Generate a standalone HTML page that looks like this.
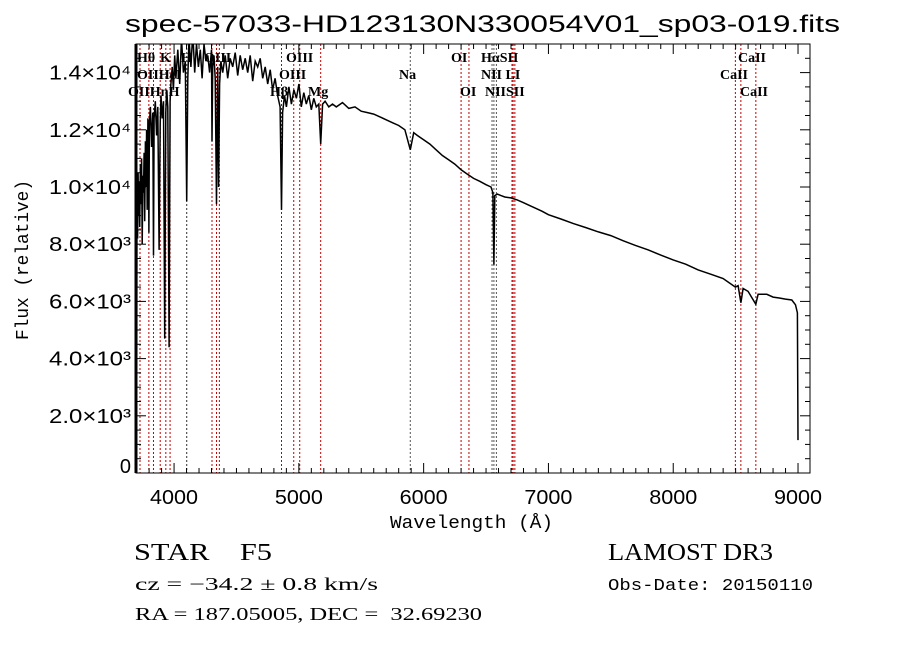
<!DOCTYPE html>
<html><head><meta charset="utf-8"><style>
html,body{margin:0;padding:0;background:#fff;width:900px;height:649px;overflow:hidden}
svg{display:block}
.ser{font-family:"Liberation Serif",serif}
.san{font-family:"Liberation Sans",sans-serif}
.mono{font-family:"Liberation Mono",monospace}
</style></head><body>
<svg id="chart" width="900" height="649" viewBox="0 0 900 649" xmlns="http://www.w3.org/2000/svg">
<text x="125" y="32" class="san" font-size="24" textLength="715" lengthAdjust="spacingAndGlyphs">spec-57033-HD123130N330054V01_sp03-019.fits</text>
<g id="grid"></g>
<g id="lines"></g>
<g id="spec"></g>
<g id="axes"></g>
<text x="390" y="528" class="mono" font-size="18" textLength="163" lengthAdjust="spacingAndGlyphs">Wavelength (Å)</text>
<text transform="translate(28,340) rotate(-90)" class="mono" font-size="18" textLength="160" lengthAdjust="spacingAndGlyphs">Flux (relative)</text>
<text x="134" y="560" class="ser" font-size="24" textLength="138" lengthAdjust="spacingAndGlyphs" xml:space="preserve">STAR    F5</text>
<text x="608" y="560" class="ser" font-size="24" textLength="165" lengthAdjust="spacingAndGlyphs">LAMOST DR3</text>
<text x="135" y="590" class="ser" font-size="18" textLength="243" lengthAdjust="spacingAndGlyphs">cz = −34.2 ± 0.8 km/s</text>
<text x="608" y="590" class="mono" font-size="17" textLength="205" lengthAdjust="spacingAndGlyphs">Obs-Date: 20150110</text>
<text x="135" y="620" class="ser" font-size="18" textLength="347" lengthAdjust="spacingAndGlyphs" xml:space="preserve">RA = 187.05005, DEC =  32.69230</text>
</svg>
<script>
const wavelengths=[3700,3703,3708,3712,3716,3720,3725,3730,3735,3740,3745,3750,3755,3760,3765,3770,3775,3780,3785,3790,3795,3798,3802,3810,3820,3830,3835,3840,3850,3860,3870,3880,3889,3895,3905,3915,3925,3934,3940,3950,3960,3968,3975,3985,3995,4005,4015,4030,4045,4060,4075,4090,4101,4110,4120,4135,4150,4165,4180,4195,4210,4225,4240,4255,4270,4285,4300,4304,4310,4320,4330,4340,4350,4357,4365,4375,4390,4410,4430,4450,4470,4490,4510,4530,4550,4570,4590,4610,4630,4650,4670,4690,4710,4730,4750,4770,4790,4810,4830,4850,4861,4870,4885,4900,4920,4940,4960,4980,5000,5020,5040,5060,5080,5100,5120,5140,5160,5175,5190,5210,5240,5270,5300,5350,5400,5450,5500,5550,5600,5650,5700,5750,5800,5850,5893,5920,5950,6000,6050,6100,6150,6200,6250,6300,6350,6400,6450,6500,6540,6555,6563,6570,6590,6620,6650,6700,6750,6800,6850,6900,6950,7000,7100,7200,7300,7400,7500,7600,7700,7800,7900,8000,8100,8200,8300,8400,8498,8520,8542,8560,8600,8662,8680,8750,8800,8850,8900,8950,8980,8995,9000];
const fluxes=[200,9500,8200,10500,9000,10200,8600,10800,9400,11000,8000,10400,9800,11200,8800,11600,10000,12000,9200,12400,11000,8400,12200,12800,11400,12600,7600,12400,13000,11800,12800,7800,12200,13200,12400,13000,4700,12600,13400,12800,4400,13000,13600,14200,13400,14600,13800,14800,13600,15200,14000,14400,9500,13800,15200,14200,15400,14000,15000,14200,14800,13800,15000,14400,14600,14000,14800,11600,14200,14600,13800,9400,14200,10000,13600,14400,14000,14600,13800,14500,14200,14700,13900,14600,14100,14500,14000,14600,13700,14400,14200,14500,13800,14200,13600,14100,13400,13800,13200,12800,9200,12600,13200,12800,13500,12900,13400,13100,13600,12800,13300,12900,13200,12700,13100,12800,12900,11500,12900,13000,12800,12900,12800,12950,12750,12800,12650,12600,12550,12450,12350,12250,12150,12000,11300,11900,11800,11650,11500,11300,11100,10950,10800,10600,10450,10300,10200,10080,10000,9800,7280,9700,9750,9700,9650,9620,9550,9450,9350,9250,9150,9030,8880,8720,8580,8430,8300,8120,7950,7800,7620,7450,7300,7100,6950,6800,6500,6550,5950,6450,6350,5900,6250,6250,6150,6120,6080,6050,5880,5600,1150];
const xTicks=[4000,5000,6000,7000,8000,9000];
const yTicks=[0,2000,4000,6000,8000,10000,12000,14000];
const yTickLabels=["0","2.0×10³","4.0×10³","6.0×10³","8.0×10³","1.0×10⁴","1.2×10⁴","1.4×10⁴"];
const lineWaves=[3727,3798,3835,3889,3934,3968,4101,4101,4304,4340,4363,4861,4959,5007,5175,5893,6300,6363,6548,6563,6583,6708,6717,6731,8498,8542,8662];
const lineNames=["OII","Hθ","Hη","Hζ","K","H","Hδ","Hδ","G","Hγ","OIII","Hβ","OIII","OIII","Mg","Na","OI","OI","NII","Hα","NII","Li","SII","SII","CaII","CaII","CaII"];
const NS="http://www.w3.org/2000/svg";
const L=136,R=810,T=44,B=473,X0=3695,X1=9096,YMAX=15000;
const xs=w=>L+(w-X0)/(X1-X0)*(R-L);
const ys=f=>B-f/YMAX*(B-T);
function mk(tag,attrs,parent){const e=document.createElementNS(NS,tag);for(const k in attrs)e.setAttribute(k,attrs[k]);parent.appendChild(e);return e;}
const gl=document.getElementById('lines'),gs=document.getElementById('spec'),ga=document.getElementById('axes');
const defs=mk('defs',{},document.getElementById('chart'));
const cp=mk('clipPath',{id:'pc'},defs);mk('rect',{x:L,y:T,width:R-L,height:B-T},cp);
const blackSet=["Na","NII","Hα","Hδ"];
lineWaves.forEach((w,i)=>{
 const c=blackSet.includes(lineNames[i])?'#555':'#c00000';
 const ln=mk('line',{x1:xs(w),x2:xs(w),y1:T,y2:B,stroke:c,'stroke-width':1,'stroke-dasharray':'2,2'},gl);
 
 
});
const labelTexts=[["Hθ",137],["K",160],["H",181],["OIII",204],["OIII",286],["OI",451],["HαSII",481],["CaII",738],
["OIIHeI",137],["OIII",279],["Na",399],["NII LI",481],["CaII",720],
["OIIHηH",128],["Hβ",270],["Mg",308],["OI",460],["NIISII",485],["CaII",740]];
const rows=[0,0,0,0,0,0,0,0,1,1,1,1,1,2,2,2,2,2,2];
const rowY=[62,79,96];
labelTexts.forEach((lt,i)=>{
 const t=mk('text',{x:lt[1],y:rowY[rows[i]],'font-size':14,'font-weight':'bold','font-family':'Liberation Serif, serif'},gl);
 t.textContent=lt[0];
 
 
});
let d='';wavelengths.forEach((w,i)=>{d+=(i?'L':'M')+xs(w).toFixed(1)+','+ys(fluxes[i]).toFixed(1);});
const p=mk('path',{d:d,fill:'none',stroke:'#000','stroke-width':1.5,'clip-path':'url(#pc)'},gs);


const fr=mk('rect',{x:L,y:T,width:R-L,height:B-T,fill:'none',stroke:'#000','stroke-width':1},ga);


mk('line',{x1:L,x2:L,y1:T,y2:B,stroke:'#000','stroke-width':3},ga);
for(let w=3700;w<=9000;w+=100){const maj=w%1000===0;const h=maj?10:5;
 mk('line',{x1:xs(w),x2:xs(w),y1:B,y2:B-h,stroke:'#000'},ga);
 mk('line',{x1:xs(w),x2:xs(w),y1:T,y2:T+h,stroke:'#000'},ga);}
xTicks.forEach(w=>{const t=mk('text',{x:xs(w)-24,y:504,'font-size':20,textLength:48,lengthAdjust:'spacingAndGlyphs','font-family':'Liberation Sans, sans-serif'},ga);t.textContent=w;
 
 });
for(let f=0;f<=YMAX;f+=500){const maj=f%2000===0;const h=maj?10:5;
 mk('line',{x1:L,x2:L+h,y1:ys(f),y2:ys(f),stroke:'#000'},ga);
 mk('line',{x1:R,x2:R-h,y1:ys(f),y2:ys(f),stroke:'#000'},ga);}
yTicks.forEach((f,i)=>{
 const attrs={x:131,y:Math.min(ys(f)+7,473),'text-anchor':'end','font-size':20,'font-family':'Liberation Sans, sans-serif'};
 if(i>0){attrs.textLength=82;attrs.lengthAdjust='spacingAndGlyphs';}
 const t=mk('text',attrs,ga);t.textContent=yTickLabels[i];
 
 });
</script>
</body></html>
